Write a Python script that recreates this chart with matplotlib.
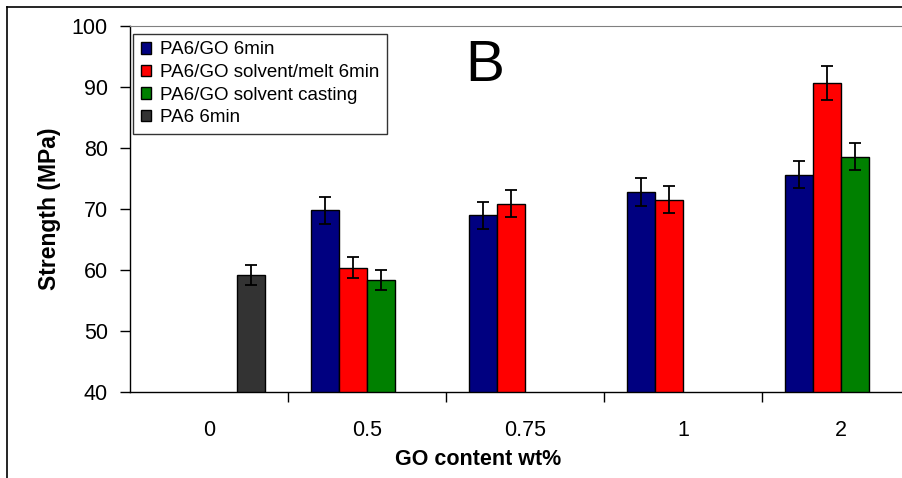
import numpy as np
import matplotlib
matplotlib.use("Agg")
import matplotlib.pyplot as plt
from matplotlib.lines import Line2D

plt.rcParams['font.family'] = ['Liberation Sans', 'DejaVu Sans']

# data
categories = ['0', '0.5', '0.75', '1', '2']
series_names = ['PA6/GO 6min', 'PA6/GO solvent/melt 6min',
                'PA6/GO solvent casting', 'PA6 6min']
pa6go_6min = [np.nan, 69.8, 69.0, 72.8, 75.6]
pa6go_6min_err = [0, 2.2, 2.2, 2.3, 2.2]
solvent_melt = [np.nan, 60.4, 70.9, 71.5, 90.6]
solvent_melt_err = [0, 1.7, 2.2, 2.2, 2.8]
solvent_casting = [np.nan, 58.4, np.nan, np.nan, 78.6]
solvent_casting_err = [0, 1.6, 0, 0, 2.2]
pa6_6min = [59.2, np.nan, np.nan, np.nan, np.nan]
pa6_6min_err = [1.7, 0, 0, 0, 0]

colors = ['#000080', '#ff0000', '#008000', '#333333']

fig = plt.figure(figsize=(9.02, 4.78), dpi=100)
ax = fig.add_axes([130/902, 86/478, 790/902, 366/478])

x = np.arange(len(categories))
w = 0.177
all_vals = [pa6go_6min, solvent_melt, solvent_casting, pa6_6min]
all_errs = [pa6go_6min_err, solvent_melt_err, solvent_casting_err, pa6_6min_err]
handles = []
for i, (vals, errs) in enumerate(zip(all_vals, all_errs)):
    vals = np.array(vals, dtype=float)
    errs = np.array(errs, dtype=float)
    pos = x + (i - 1.5) * w
    ok = ~np.isnan(vals)
    b = ax.bar(pos[ok], vals[ok], width=w, color=colors[i], edgecolor='black',
               linewidth=1.0, label=series_names[i], zorder=2)
    ax.errorbar(pos[ok], vals[ok], yerr=errs[ok], fmt='none', ecolor='black',
                elinewidth=1.3, capsize=4, capthick=1.3, zorder=3)
    handles.append(b)

ax.set_xlim(-0.5, 4.5)
ax.set_ylim(40, 100)
ax.set_yticks(range(40, 101, 10))

# labels at category centres, tick marks at boundaries
ax.set_xticks(x)
ax.set_xticklabels(categories)
ax.set_xticks(np.arange(0.5, 4.5, 1), minor=True)
ax.tick_params(axis='x', which='major', length=0, pad=20, labelsize=15.5)
ax.tick_params(axis='x', which='minor', length=7, width=1, direction='out')
ax.tick_params(axis='y', length=7, width=1, direction='out', pad=9, labelsize=15.5)

ax.spines['right'].set_visible(False)
ax.spines['top'].set_color('#808080')
for s in ['left', 'bottom']:
    ax.spines[s].set_linewidth(1)

ax.set_ylabel('Strength (MPa)', fontsize=16.5, fontweight='bold')
ax.yaxis.set_label_coords(-0.0873, 0.5)
ax.set_xlabel('GO content wt%', fontsize=15.5, fontweight='bold', va='top')
ax.xaxis.set_label_coords(0.4405, -0.156)

ax.text(0.449, 0.891, 'B', transform=ax.transAxes, fontsize=42,
        ha='center', va='center')

leg = ax.legend(handles=handles, loc='upper left', bbox_to_anchor=(3/790, 1 - 8/366),
                fontsize=13.5, frameon=True, fancybox=False, borderaxespad=0,
                handlelength=0.55, handleheight=0.55, handletextpad=0.5,
                labelspacing=0.3, borderpad=0.4)
leg.get_frame().set_edgecolor('black')
leg.get_frame().set_linewidth(1)

# outer frame of the original figure (left and top edges visible)
fig.add_artist(Line2D([7/902, 7/902], [0, 1 - 7/478], transform=fig.transFigure,
                      color='black', linewidth=1.2))
fig.add_artist(Line2D([7/902, 1], [1 - 7/478, 1 - 7/478], transform=fig.transFigure,
                      color='black', linewidth=1.2))

fig.savefig('out.png', dpi=100)
